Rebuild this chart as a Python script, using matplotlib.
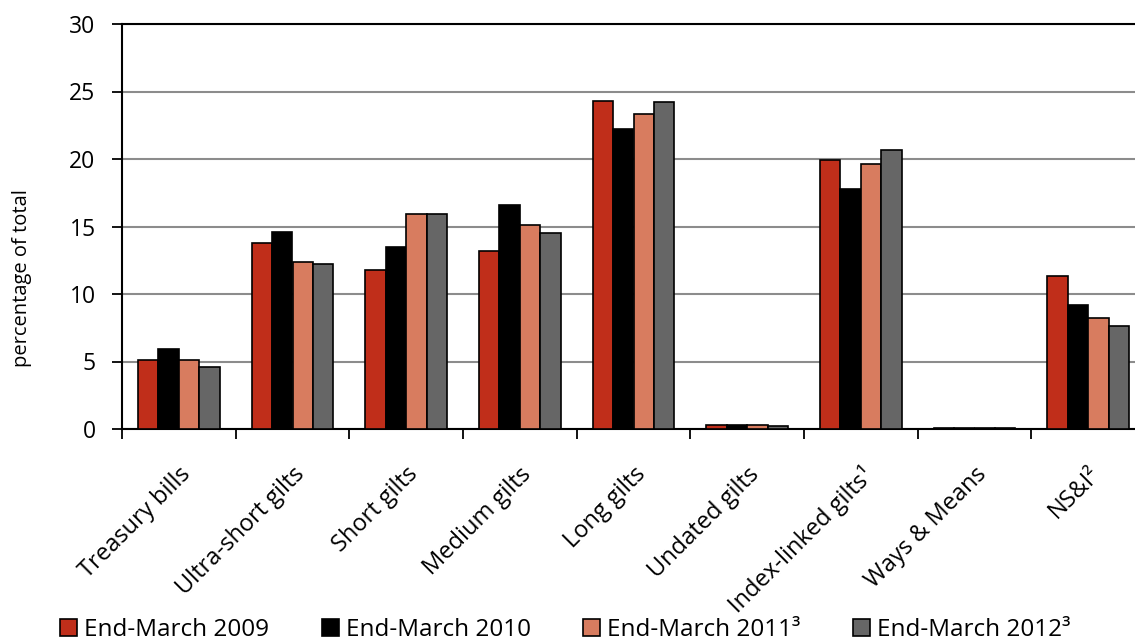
import matplotlib
matplotlib.use("Agg")
import matplotlib.pyplot as plt
import numpy as np

categories = ["Treasury bills", "Ultra-short gilts", "Short gilts", "Medium gilts",
              "Long gilts", "Undated gilts", "Index-linked gilts\u00b9", "Ways & Means",
              "NS&I\u00b2"]
series_names = ["End-March 2009", "End-March 2010", "End-March 2011\u00b3", "End-March 2012\u00b3"]
mar_2009 = [5.1, 13.8, 11.8, 13.2, 24.3, 0.3, 19.9, 0.1, 11.3]
mar_2010 = [5.9, 14.6, 13.5, 16.6, 22.2, 0.3, 17.8, 0.1, 9.2]
mar_2011 = [5.1, 12.4, 15.9, 15.1, 23.3, 0.3, 19.6, 0.1, 8.2]
mar_2012 = [4.6, 12.2, 15.9, 14.5, 24.2, 0.2, 20.7, 0.1, 7.6]
y_ticks = [0, 5, 10, 15, 20, 25, 30]

colors = ["#C02E1A", "#000000", "#D87C5F", "#666666"]

plt.rcParams['font.family'] = ['Open Sans', 'DejaVu Sans']

W, H = 1135, 641
fig = plt.figure(figsize=(W / 100, H / 100), dpi=100)
left, right, top, bottom = 122, 1145, 24, 429
ax = fig.add_axes([left / W, 1 - bottom / H, (right - left) / W, (bottom - top) / H])

x = np.arange(len(categories))
bw = 0.18
offsets = [-1.5 * bw, -0.5 * bw, 0.5 * bw, 1.5 * bw]
handles = []
for vals, off, c, name in zip([mar_2009, mar_2010, mar_2011, mar_2012], offsets, colors, series_names):
    h = ax.bar(x + off, vals, width=bw, color=c, edgecolor="black", linewidth=1.2,
               label=name, zorder=3)
    handles.append(h)

ax.set_xlim(-0.5, len(categories) - 0.5)
ax.set_ylim(0, 30)
ax.set_yticks(y_ticks)
ax.yaxis.grid(True, color="#8C8C8C", linewidth=1.5, zorder=0)
ax.set_axisbelow(True)

ax.spines["right"].set_visible(False)
for s in ["left", "bottom", "top"]:
    ax.spines[s].set_linewidth(1.5)
    ax.spines[s].set_color("black")

ax.tick_params(axis="y", direction="out", length=7, width=1.3, pad=12, labelsize=16.5)
ax.set_xticks(x)
ax.set_xticklabels(categories, rotation=45, ha="right", rotation_mode="anchor", fontsize=17)
ax.tick_params(axis="x", which="major", length=0, pad=24)
ax.set_xticks(np.arange(-0.5, len(categories) + 0.5, 1), minor=True)
ax.tick_params(axis="x", which="minor", direction="out", length=7, width=1.3)

fig.text(22 / W, 1 - 278 / H, "percentage of total", rotation=90, ha="center", va="center",
         fontsize=14.5)

leg = fig.legend(handles=handles, labels=series_names, loc="center left",
                 bbox_to_anchor=(60 / W, 1 - 630 / H), ncol=4, frameon=False,
                 fontsize=17.5, handlelength=0.7, handleheight=0.7, handletextpad=0.3,
                 columnspacing=2.15, borderpad=0, borderaxespad=0)

fig.savefig("out.png", dpi=100)
